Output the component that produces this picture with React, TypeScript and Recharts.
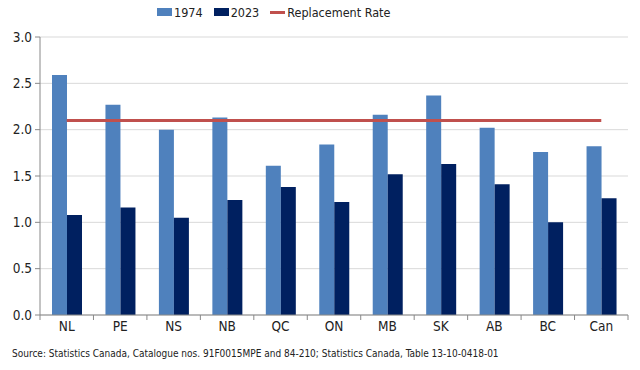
import React from "react";
import {
  Bar,
  CartesianGrid,
  ComposedChart,
  Legend,
  Line,
  XAxis,
  YAxis,
} from "recharts";

const provinces = ["NL", "PE", "NS", "NB", "QC", "ON", "MB", "SK", "AB", "BC", "Can"];
const rate1974 = [2.59, 2.27, 2.0, 2.13, 1.61, 1.84, 2.16, 2.37, 2.02, 1.76, 1.82];
const rate2023 = [1.08, 1.16, 1.05, 1.24, 1.38, 1.22, 1.52, 1.63, 1.41, 1.0, 1.26];
const replacement = [2.1, 2.1, 2.1, 2.1, 2.1, 2.1, 2.1, 2.1, 2.1, 2.1, 2.1];
const yTicks = [0, 0.5, 1, 1.5, 2, 2.5, 3];

const data = provinces.map((p, i) => ({
  name: p,
  y1974: rate1974[i],
  y2023: rate2023[i],
  rate: replacement[i],
}));

const FONT = "'DejaVu Sans Condensed', 'Open Sans', sans-serif";
const C1974 = "#4F81BD";
const C2023 = "#002060";
const CLINE = "#C0504D";

const W = 640;
const H = 370;
const M = { top: 13, right: 12, left: 0, bottom: 0 };
const Y_W = 40;
const STEP = (W - M.left - M.right - Y_W) / provinces.length;

function XTick(props: any) {
  const { x, y, payload, index } = props;
  const left = x - STEP / 2;
  return (
    <g>
      <line x1={left} x2={left} y1={y - 8} y2={y - 3} stroke="#888" />
      {index === provinces.length - 1 && (
        <line x1={left + STEP} x2={left + STEP} y1={y - 8} y2={y - 3} stroke="#888" />
      )}
      <text x={x} y={y + 8} textAnchor="middle" fontSize={13.5} fill="#222" fontFamily={FONT}>
        {payload.value}
      </text>
    </g>
  );
}

function LegendBox() {
  const item = (swatch: React.ReactNode, label: string) => (
    <span style={{ display: "inline-flex", alignItems: "center", marginRight: 11 }}>
      {swatch}
      <span style={{ marginLeft: 2 }}>{label}</span>
    </span>
  );
  return (
    <div
      style={{
        fontFamily: FONT,
        fontSize: 12.5,
        color: "#222",
        display: "flex",
        alignItems: "center",
        paddingLeft: 157,
        height: 24,
      }}
    >
      {item(<span style={{ width: 15, height: 8, background: C1974, display: "inline-block" }} />, "1974")}
      {item(<span style={{ width: 15, height: 8, background: C2023, display: "inline-block" }} />, "2023")}
      {item(<span style={{ width: 15, height: 3, background: CLINE, display: "inline-block" }} />, "Replacement Rate")}
    </div>
  );
}

export default function App() {
  return (
    <div style={{ position: "absolute", left: 0, top: 0, width: W, height: H, background: "#fff" }}>
      <ComposedChart width={W} height={H - 30} data={data} margin={M} barGap={0} barSize={15}>
        <CartesianGrid vertical={false} stroke="#D9D9D9" />
        <Legend
          verticalAlign="top"
          align="left"
          content={() => <LegendBox />}
          wrapperStyle={{ top: 0, left: 0, height: 24, width: W }}
        />
        <XAxis
          dataKey="name"
          axisLine={{ stroke: "#888" }}
          tickLine={false}
          tick={<XTick />}
          height={25}
          interval={0}
        />
        <YAxis
          domain={[0, 3]}
          ticks={yTicks}
          width={Y_W}
          tickFormatter={(v: number) => v.toFixed(1)}
          tick={{ fontSize: 13.5, fill: "#222", fontFamily: FONT }}
          axisLine={{ stroke: "#888" }}
          tickLine={{ stroke: "#888" }}
          tickSize={5}
          tickMargin={3}
        />
        <Bar dataKey="y1974" fill={C1974} isAnimationActive={false} />
        <Bar dataKey="y2023" fill={C2023} isAnimationActive={false} />
        <Line
          dataKey="rate"
          stroke={CLINE}
          strokeWidth={3}
          dot={false}
          activeDot={false}
          isAnimationActive={false}
        />
      </ComposedChart>
      <div
        style={{
          position: "absolute",
          left: 12,
          top: 348,
          fontFamily: FONT,
          fontSize: 10,
          color: "#222",
          whiteSpace: "nowrap",
        }}
      >
        Source: Statistics Canada, Catalogue nos. 91F0015MPE and 84-210; Statistics Canada, Table 13-10-0418-01
      </div>
    </div>
  );
}
